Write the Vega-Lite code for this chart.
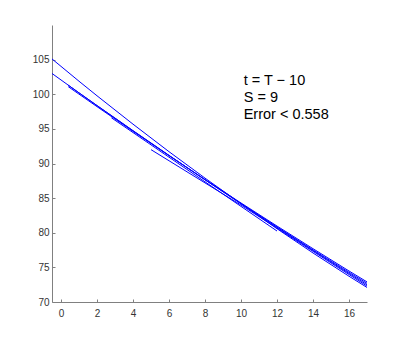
{
  "$schema": "https://vega.github.io/schema/vega-lite/v6.json",
  "width": 315,
  "height": 277,
  "autosize": {"type": "none"},
  "padding": {"left": 52, "top": 25, "right": 38, "bottom": 38},
  "background": "white",
  "config": {"view": {"stroke": null}, "axis": {"labelOverlap": false}},
  "layer": [
    {
      "data": {"values": [
        {"seg": "A", "x": -0.5, "y": 105.10},
        {"seg": "A", "x": 1, "y": 101.88},
        {"seg": "A", "x": 2, "y": 99.78},
        {"seg": "A", "x": 4, "y": 95.68},
        {"seg": "A", "x": 6, "y": 91.71},
        {"seg": "A", "x": 8, "y": 87.89},
        {"seg": "A", "x": 10, "y": 84.2},
        {"seg": "A", "x": 12, "y": 80.58},
        {"seg": "A", "x": 14, "y": 77.08},
        {"seg": "A", "x": 16, "y": 73.72},
        {"seg": "A", "x": 17, "y": 72.10},
        {"seg": "B", "x": -0.5, "y": 103.00},
        {"seg": "B", "x": 1, "y": 100.20},
        {"seg": "B", "x": 2, "y": 98.36},
        {"seg": "B", "x": 4, "y": 94.72},
        {"seg": "B", "x": 6, "y": 91.14},
        {"seg": "B", "x": 8, "y": 87.64},
        {"seg": "B", "x": 10, "y": 84.2},
        {"seg": "B", "x": 12, "y": 80.83},
        {"seg": "B", "x": 14, "y": 77.53},
        {"seg": "B", "x": 16, "y": 74.29},
        {"seg": "B", "x": 17, "y": 72.70},
        {"seg": "C", "x": 0.4, "y": 101.31},
        {"seg": "C", "x": 2, "y": 98.37},
        {"seg": "C", "x": 4, "y": 94.75},
        {"seg": "C", "x": 6, "y": 91.18},
        {"seg": "C", "x": 8, "y": 87.66},
        {"seg": "C", "x": 10, "y": 84.2},
        {"seg": "C", "x": 12, "y": 80.79},
        {"seg": "C", "x": 14, "y": 77.43},
        {"seg": "C", "x": 16, "y": 74.13},
        {"seg": "C", "x": 17, "y": 72.50},
        {"seg": "D", "x": 0.4, "y": 101.10},
        {"seg": "D", "x": 2, "y": 98.21},
        {"seg": "D", "x": 4, "y": 94.64},
        {"seg": "D", "x": 6, "y": 91.14},
        {"seg": "D", "x": 8, "y": 87.69},
        {"seg": "D", "x": 10, "y": 84.3},
        {"seg": "D", "x": 12, "y": 80.97},
        {"seg": "D", "x": 14, "y": 77.70},
        {"seg": "D", "x": 16, "y": 74.48},
        {"seg": "D", "x": 17, "y": 72.90},
        {"seg": "E", "x": 2.8, "y": 96.6},
        {"seg": "E", "x": 12, "y": 80.25},
        {"seg": "F", "x": 5.0, "y": 92.0},
        {"seg": "F", "x": 10, "y": 84.0},
        {"seg": "F", "x": 17, "y": 72.3}
      ]},
      "mark": {"type": "line", "color": "#0000ff", "strokeWidth": 1, "clip": true},
      "encoding": {
        "x": {"field": "x", "type": "quantitative",
              "scale": {"domain": [-0.5, 17], "nice": false, "zero": false},
              "axis": {"title": null, "values": [0, 2, 4, 6, 8, 10, 12, 14, 16], "tickCount": 30, "format": "d", "grid": false,
                       "labelOverlap": false, "labelBound": false, "labelFlush": false,
                       "domainColor": "#808080", "tickColor": "#808080", "tickSize": -3,
                       "labelPadding": 9, "labelFontSize": 10, "labelColor": "#333333", "labelFont": "Liberation Sans"}},
        "y": {"field": "y", "type": "quantitative",
              "scale": {"domain": [70, 110], "nice": false, "zero": false},
              "axis": {"title": null, "values": [70, 75, 80, 85, 90, 95, 100, 105], "tickCount": 30, "format": "d", "grid": false,
                       "labelOverlap": false, "labelBound": false, "labelFlush": false,
                       "domainColor": "#808080", "tickColor": "#808080", "tickSize": -3,
                       "labelPadding": 6, "labelFontSize": 10, "labelColor": "#333333", "labelFont": "Liberation Sans"}},
        "detail": {"field": "seg"}
      }
    },
    {
      "data": {"values": [
        {"x": 10.15, "y": 101.9, "label": "t = T − 10"},
        {"x": 10.15, "y": 99.45, "label": "S = 9"},
        {"x": 10.15, "y": 97.05, "label": "Error < 0.558"}
      ]},
      "mark": {"type": "text", "align": "left", "baseline": "middle", "fontSize": 14.5, "font": "Liberation Sans", "color": "#000000"},
      "encoding": {
        "x": {"field": "x", "type": "quantitative"},
        "y": {"field": "y", "type": "quantitative"},
        "text": {"field": "label"}
      }
    }
  ]
}
